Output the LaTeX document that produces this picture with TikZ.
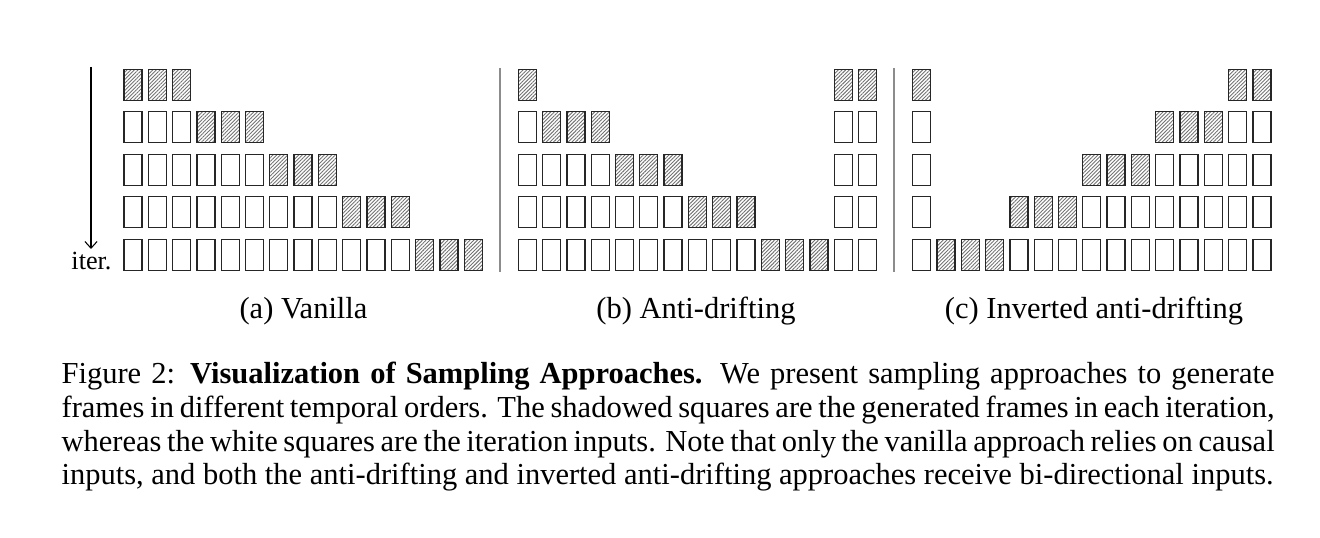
\documentclass[tikz,border=0pt]{standalone}
\usepackage{fontspec}
\setmainfont{Liberation Serif}
\usetikzlibrary{patterns.meta,arrows.meta}
\tikzset{
  box/.style={draw=black!85, line width=0.42pt, fill=white, inner sep=0pt, outer sep=0pt,
    minimum width=5.9pt, minimum height=10.16pt},
  hat/.style={pattern={Lines[angle=45,distance=0.85pt,line width=0.3pt]}, pattern color=black!55},
  wht/.style={},
  sep/.style={draw=black!45, line width=0.35pt},
  lbl/.style={font=\fontsize{10pt}{11pt}\selectfont, anchor=base, inner sep=0pt},
}
\newcommand\boxrun[6]{%
  \foreach \c in {#4,...,#5}{\node[box,#6] (#1-#3-\c) at ({#2+9+24.3*\c},{84.8+42.5*#3}) {};}}
\begin{document}
\begin{tikzpicture}[x=0.32787pt,y=-0.32787pt]
\useasboundingbox (0,0) rectangle (1320,538);
% arrow
\coordinate (atop) at (91,67);
\coordinate (abot) at (91,249);
\draw[line width=0.35pt,-{Straight Barb[length=2.2pt,width=4pt]}] (atop) -- (abot);
\node[font=\fontsize{8.6pt}{10pt}\selectfont, anchor=base, inner sep=0pt] (iter) at (91.5,270) {iter.};
% separators
\coordinate (s1t) at (500,68); \coordinate (s1b) at (500,272);
\coordinate (s2t) at (894,68); \coordinate (s2b) at (894,272);
\draw[sep] (s1t) -- (s1b);
\draw[sep] (s2t) -- (s2b);
% vanilla
\boxrun{v}{124}{0}{0}{2}{hat}
\boxrun{v}{124}{1}{0}{2}{wht}\boxrun{v}{124}{1}{3}{5}{hat}
\boxrun{v}{124}{2}{0}{5}{wht}\boxrun{v}{124}{2}{6}{8}{hat}
\boxrun{v}{124}{3}{0}{8}{wht}\boxrun{v}{124}{3}{9}{11}{hat}
\boxrun{v}{124}{4}{0}{11}{wht}\boxrun{v}{124}{4}{12}{14}{hat}
% anti-drifting
\boxrun{a}{518.3}{0}{0}{0}{hat}\boxrun{a}{518.3}{0}{13}{14}{hat}
\boxrun{a}{518.3}{1}{0}{0}{wht}\boxrun{a}{518.3}{1}{1}{3}{hat}\boxrun{a}{518.3}{1}{13}{14}{wht}
\boxrun{a}{518.3}{2}{0}{3}{wht}\boxrun{a}{518.3}{2}{4}{6}{hat}\boxrun{a}{518.3}{2}{13}{14}{wht}
\boxrun{a}{518.3}{3}{0}{6}{wht}\boxrun{a}{518.3}{3}{7}{9}{hat}\boxrun{a}{518.3}{3}{13}{14}{wht}
\boxrun{a}{518.3}{4}{0}{9}{wht}\boxrun{a}{518.3}{4}{10}{12}{hat}\boxrun{a}{518.3}{4}{13}{14}{wht}
% inverted anti-drifting
\boxrun{i}{912.7}{0}{0}{0}{hat}\boxrun{i}{912.7}{0}{13}{14}{hat}
\boxrun{i}{912.7}{1}{0}{0}{wht}\boxrun{i}{912.7}{1}{10}{12}{hat}\boxrun{i}{912.7}{1}{13}{14}{wht}
\boxrun{i}{912.7}{2}{0}{0}{wht}\boxrun{i}{912.7}{2}{7}{9}{hat}\boxrun{i}{912.7}{2}{10}{14}{wht}
\boxrun{i}{912.7}{3}{0}{0}{wht}\boxrun{i}{912.7}{3}{4}{6}{hat}\boxrun{i}{912.7}{3}{7}{14}{wht}
\boxrun{i}{912.7}{4}{0}{0}{wht}\boxrun{i}{912.7}{4}{1}{3}{hat}\boxrun{i}{912.7}{4}{4}{14}{wht}
% sub-captions
\node[lbl] (ca) at (303.5,319) {(a) Vanilla};
\node[lbl] (cb) at (696,319) {(b) Anti-drifting};
\node[lbl] (cc) at (1094,319) {(c) Inverted anti-drifting};
% caption
\node[anchor=base west, inner sep=0pt, text width=397.7pt, align=justify,
  font=\fontsize{10pt}{11pt}\selectfont] (cap) at (61,384)
  {Figure 2: \textbf{Visualization of Sampling Approaches.} We present sampling approaches to generate\linebreak
   frames in different temporal orders. The shadowed squares are the generated frames in each iteration,\linebreak
   whereas the white squares are the iteration inputs. Note that only the vanilla approach relies on causal\linebreak
   inputs, and both the anti-drifting and inverted anti-drifting approaches receive bi-directional inputs.};
\end{tikzpicture}
\end{document}
